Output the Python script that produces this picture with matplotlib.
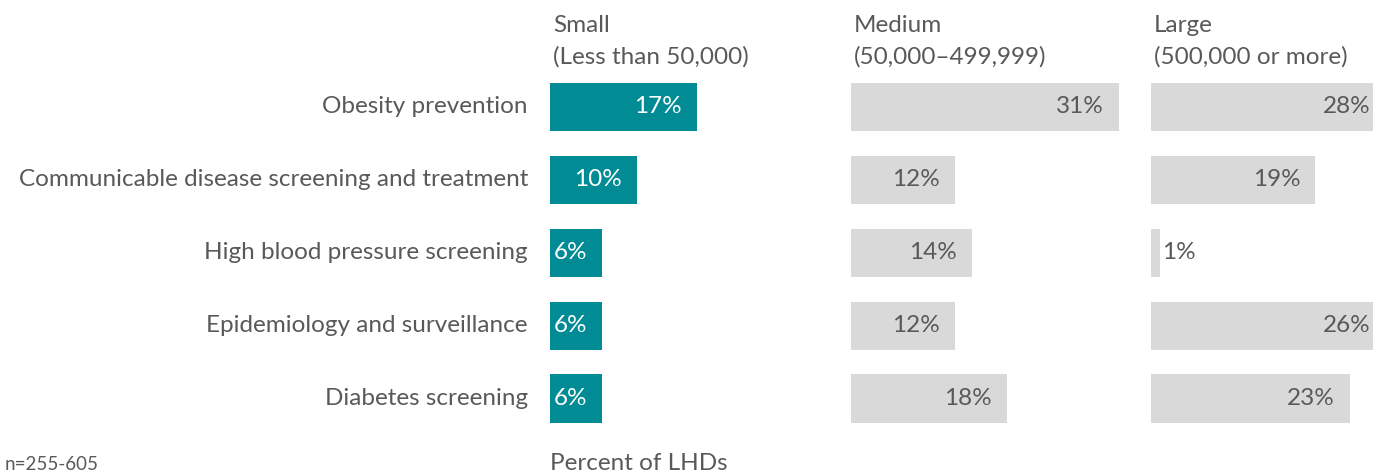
import matplotlib.pyplot as plt

plt.rcParams['font.family'] = ['Lato', 'DejaVu Sans']

categories = ["Obesity prevention",
              "Communicable disease screening and treatment",
              "High blood pressure screening",
              "Epidemiology and surveillance",
              "Diabetes screening"]
small = [17, 10, 6, 6, 6]
medium = [31, 12, 14, 12, 18]
large = [28, 19, 1, 26, 23]
headers = [("Small", "(Less than 50,000)"),
           ("Medium", "(50,000\u2013499,999)"),
           ("Large", "(500,000 or more)")]

W, H = 1373, 473
teal = "#008b95"
grey = "#d9d9d9"
txt = "#595959"

fig = plt.figure(figsize=(W / 100, H / 100), dpi=100)

px_per_pct = 8.65
lefts = [550, 851, 1151]
panel_w = 300
top_px, bot_px = 70.5, 435
fs = 17.5

series = [small, medium, large]
for k, (vals, left) in enumerate(zip(series, lefts)):
    ax = fig.add_axes([left / W, 1 - bot_px / H, panel_w / W, (bot_px - top_px) / H])
    ax.set_xlim(0, panel_w / px_per_pct)
    ax.set_ylim(len(categories) - 0.5, -0.5)
    ax.axis("off")
    color = teal if k == 0 else grey
    tcol = "white" if k == 0 else txt
    ax.barh(range(len(categories)), vals, height=0.66, color=color, clip_on=False)
    # last visible x (data units) before the figure's right edge
    edge = (W - 2 - left) / px_per_pct
    for i, v in enumerate(vals):
        if v < 3:
            ax.annotate(f"{v}%", (v, i), xytext=(2, 0), textcoords="offset pixels",
                        ha="left", va="center", fontsize=fs, color=txt)
        elif v > edge:
            ax.annotate(f"{v}%", (edge, i), ha="right", va="center",
                        fontsize=fs, color=tcol)
        else:
            ax.annotate(f"{v}%", (v, i), xytext=(-15, 0), textcoords="offset pixels",
                        ha="right", va="center", fontsize=fs, color=tcol)
    if k == 0:
        for i, c in enumerate(categories):
            ax.annotate(c, (0, i), xytext=(-22, 0), textcoords="offset pixels",
                        ha="right", va="center", fontsize=fs, color=txt)
    fig.text((left + 3) / W, 1 - 32 / H, headers[k][0], ha="left", va="baseline",
             fontsize=fs, color=txt)
    fig.text((left + 3) / W, 1 - 64 / H, headers[k][1], ha="left", va="baseline",
             fontsize=fs, color=txt)

fig.text(550 / W, 1 - 470 / H, "Percent of LHDs", ha="left", va="baseline",
         fontsize=fs, color=txt)
fig.text(5 / W, 1 - 470 / H, "n=255-605", ha="left", va="baseline",
         fontsize=13.5, color=txt)

fig.savefig("out.png", dpi=100)
